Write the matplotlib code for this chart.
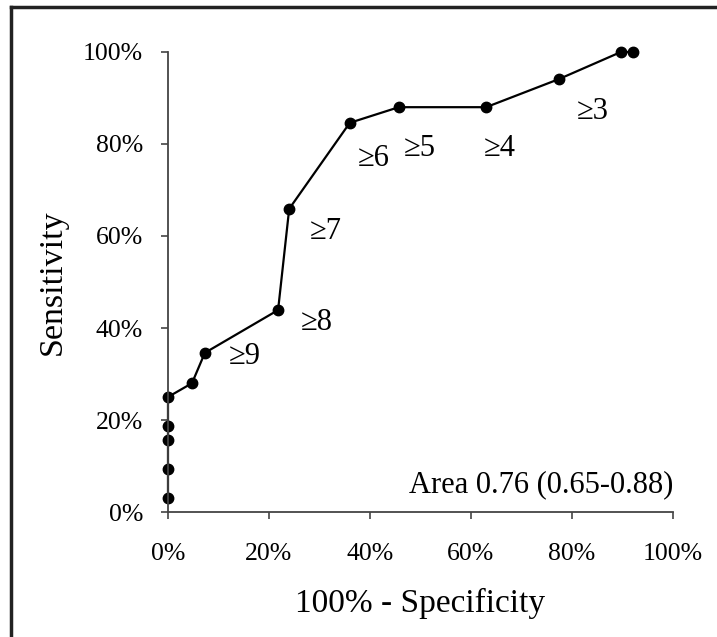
import matplotlib.pyplot as plt
from matplotlib.lines import Line2D
from matplotlib.ticker import FuncFormatter

plt.rcParams['font.family'] = ['Liberation Serif', 'DejaVu Serif']

# ROC points (percent)
fpr = [0, 0, 0, 0, 0, 4.75, 7.3, 21.8, 24.0, 36.0, 45.7, 63.0, 77.4, 89.7, 92.1]
tpr = [3.0, 9.3, 15.7, 18.7, 25.0, 28.0, 34.6, 43.9, 65.9, 84.6, 88.0, 88.0, 94.1, 100, 100]

# cut-off labels and where they sit
cut_labels = ['\u22659', '\u22658', '\u22657', '\u22656', '\u22655', '\u22654', '\u22653']
label_x = [15.2, 29.5, 31.2, 40.8, 49.9, 65.7, 84.2]
label_y = [33.9, 41.3, 60.9, 76.9, 79.1, 79.1, 87.0]

ticks = [0, 20, 40, 60, 80, 100]

fig = plt.figure(figsize=(7.17, 6.37), dpi=100)
ax = fig.add_axes([0.2343, 0.1962, 0.7043, 0.7222])

ax.plot(fpr, tpr, color='black', lw=1.6, marker='o', ms=7.5, clip_on=False)

for lab, x, y in zip(cut_labels, label_x, label_y):
    ax.text(x, y, lab, ha='center', va='center', fontsize=22)

ax.text(100, 5.9, 'Area 0.76 (0.65-0.88)', ha='right', va='center', fontsize=22)

ax.set_xlim(0, 100)
ax.set_ylim(0, 100)
ax.set_xticks(ticks)
ax.set_yticks(ticks)
pct = FuncFormatter(lambda v, p: f'{v:.0f}%')
ax.xaxis.set_major_formatter(pct)
ax.yaxis.set_major_formatter(pct)
ax.tick_params(labelsize=18.5, length=5, width=1.2, color='#444')
ax.tick_params(axis='x', pad=17)
ax.tick_params(axis='y', pad=13)

for s in ['top', 'right']:
    ax.spines[s].set_visible(False)
for s in ['left', 'bottom']:
    ax.spines[s].set_linewidth(1.3)
    ax.spines[s].set_color('#444')

ax.set_xlabel('100% - Specificity', fontsize=24, labelpad=17)
ax.set_ylabel('Sensitivity', fontsize=24.5, labelpad=11)

# frame around the figure (left and top edges visible)
fig.add_artist(Line2D([11 / 717, 11 / 717], [0, 1 - 7 / 637], transform=fig.transFigure,
                      color='#222', lw=2.5))
fig.add_artist(Line2D([11 / 717, 1], [1 - 7 / 637, 1 - 7 / 637], transform=fig.transFigure,
                      color='#222', lw=2.5))

fig.savefig('out.png', dpi=100)
